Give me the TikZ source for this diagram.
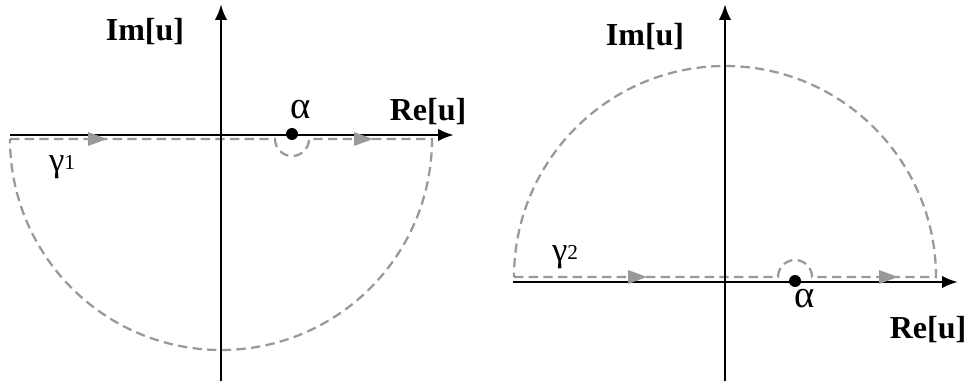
\documentclass[tikz,border=0pt]{standalone}
\usepackage{fontspec}
\setmainfont{Liberation Serif}
\usetikzlibrary{arrows.meta}
\tikzset{
  axis/.style={line width=2.2pt, -{Latex[length=12pt,width=9.5pt]}},
  contour/.style={line width=1.7pt, draw=black!40, dash pattern=on 7pt off 4pt},
  garrow/.style={fill=black!40},
  pole/.style={circle, fill=black, inner sep=0pt, minimum size=9pt},
  axlabel/.style={font=\fontsize{24}{26}\selectfont\bfseries, inner sep=0pt},
  alab/.style={font=\fontsize{29}{31}\selectfont, inner sep=0pt},
  glab/.style={inner sep=0pt}
}
\newcommand{\gtri}[2]{\fill[garrow] (#1-19,#2+7) -- (#1,#2) -- (#1-19,#2-7) -- cycle;}
\begin{document}
\begin{tikzpicture}[x=0.75pt,y=0.75pt]
\useasboundingbox (0,0) rectangle (974,-381);
% ---------- left diagram ----------
\coordinate (L0) at (10,-135);
\coordinate (L1) at (454,-135);
\coordinate (V0) at (221,-381);
\coordinate (V1) at (221,-4);
\draw[contour] (10,-139) -- (275,-139) arc[start angle=180,end angle=360,radius=17]
  -- (432,-139) arc[start angle=0,end angle=-180,radius=211];
\draw[axis] (L0) -- (L1);
\draw[axis] (V0) -- (V1);
\gtri{107}{-139}
\gtri{373}{-139}
\node[pole] (aL) at (292,-134) {};
\node[alab] (alphaL) at (301,-110) {α};
\node[axlabel] (imL) at (145,-32) {Im[u]};
\node[axlabel] (reL) at (428,-112) {Re[u]};
\node[glab] (g1) at (62,-167) {\fontsize{26}{28}\selectfont γ\raisebox{1pt}{\fontsize{16}{18}\selectfont 1}};
% ---------- right diagram ----------
\coordinate (R0) at (513,-282);
\coordinate (R1) at (958,-282);
\coordinate (W0) at (725,-381);
\coordinate (W1) at (725,-4);
\draw[contour] (514,-277) -- (778,-277) arc[start angle=180,end angle=0,radius=17]
  -- (936,-277) arc[start angle=0,end angle=180,radius=211];
\draw[axis] (R0) -- (R1);
\draw[axis] (W0) -- (W1);
\gtri{647}{-277}
\gtri{898}{-277}
\node[pole] (aR) at (795,-281) {};
\node[alab] (alphaR) at (805,-299) {α};
\node[axlabel] (imR) at (645,-37) {Im[u]};
\node[axlabel] (reR) at (928,-330) {Re[u]};
\node[glab] (g2) at (565,-257) {\fontsize{26}{28}\selectfont γ\raisebox{1pt}{\fontsize{16}{18}\selectfont 2}};
\end{tikzpicture}
\end{document}
